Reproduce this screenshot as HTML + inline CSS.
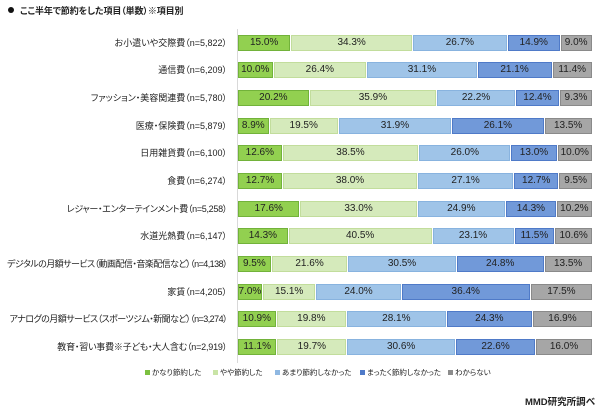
<!DOCTYPE html>
<html><head><meta charset="utf-8">
<style>
html,body{margin:0;padding:0;background:#fff;}
body{width:600px;height:414px;position:relative;overflow:hidden;font-family:"Liberation Sans","Noto Sans CJK JP",sans-serif;color:#222;}
.title{position:absolute;left:8px;top:4px;font-size:9px;font-weight:bold;line-height:14px;font-feature-settings:"palt";white-space:nowrap;letter-spacing:-0.1px;}
.title b{display:inline-block;width:6px;height:6px;border-radius:50%;background:#111;margin-right:6px;vertical-align:1px;}
.axis{position:absolute;left:237px;top:29px;width:1px;height:334px;background:#d9d9d9;}
.lab{position:absolute;left:0;width:227px;text-align:right;font-size:9px;line-height:16px;height:16px;white-space:nowrap;font-feature-settings:"palt";}
.bar{position:absolute;left:238px;width:355px;height:16px;display:flex;}
.bar i{font-style:normal;box-sizing:border-box;height:16px;border-right:1px solid #fff;background-clip:padding-box;text-align:center;font-size:10px;line-height:16px;white-space:nowrap;overflow:visible;color:#222;}
.a{background-color:#92d050;box-shadow:inset 0 0 0 1px #72b23a;}
.b{background-color:#d5eabb;box-shadow:inset 0 0 0 1px #c2dd9c;}
.c{background-color:#9fc4e8;box-shadow:inset 0 0 0 1px #88b3df;}
.d{background-color:#7199d9;box-shadow:inset 0 0 0 1px #4f7ac8;}
.e{background-color:#a6a6a6;box-shadow:inset 0 0 0 1px #8a8a8a;}
.leg{position:absolute;top:367px;font-size:7.5px;line-height:12px;white-space:nowrap;font-feature-settings:"palt";}
.leg s{display:inline-block;width:5px;height:5px;margin-right:2px;vertical-align:0px;}
.src{position:absolute;right:5px;top:396px;font-size:9.5px;font-weight:bold;line-height:14px;font-feature-settings:"palt";}
</style></head><body>
<div class="title"><b></b>ここ半年で節約をした項目（単数）※項目別</div>
<div class="axis"></div>

<div class="lab" style="top:35px">お小遣いや交際費（n=5,822）</div>
<div class="bar" style="top:35px"><i class="a" style="width:15.0%">15.0%</i><i class="b" style="width:34.3%">34.3%</i><i class="c" style="width:26.7%">26.7%</i><i class="d" style="width:14.9%">14.9%</i><i class="e" style="width:9.0%">9.0%</i></div>

<div class="lab" style="top:62px">通信費（n=6,209）</div>
<div class="bar" style="top:62px"><i class="a" style="width:10.0%">10.0%</i><i class="b" style="width:26.4%">26.4%</i><i class="c" style="width:31.1%">31.1%</i><i class="d" style="width:21.1%">21.1%</i><i class="e" style="width:11.4%">11.4%</i></div>

<div class="lab" style="top:90px">ファッション・美容関連費（n=5,780）</div>
<div class="bar" style="top:90px"><i class="a" style="width:20.2%">20.2%</i><i class="b" style="width:35.9%">35.9%</i><i class="c" style="width:22.2%">22.2%</i><i class="d" style="width:12.4%">12.4%</i><i class="e" style="width:9.3%">9.3%</i></div>

<div class="lab" style="top:118px">医療・保険費（n=5,879）</div>
<div class="bar" style="top:118px"><i class="a" style="width:8.9%">8.9%</i><i class="b" style="width:19.5%">19.5%</i><i class="c" style="width:31.9%">31.9%</i><i class="d" style="width:26.1%">26.1%</i><i class="e" style="width:13.5%">13.5%</i></div>

<div class="lab" style="top:145px">日用雑貨費（n=6,100）</div>
<div class="bar" style="top:145px"><i class="a" style="width:12.6%">12.6%</i><i class="b" style="width:38.5%">38.5%</i><i class="c" style="width:26.0%">26.0%</i><i class="d" style="width:13.0%">13.0%</i><i class="e" style="width:10.0%">10.0%</i></div>

<div class="lab" style="top:173px">食費（n=6,274）</div>
<div class="bar" style="top:173px"><i class="a" style="width:12.7%">12.7%</i><i class="b" style="width:38.0%">38.0%</i><i class="c" style="width:27.1%">27.1%</i><i class="d" style="width:12.7%">12.7%</i><i class="e" style="width:9.5%">9.5%</i></div>

<div class="lab" style="top:201px;letter-spacing:-0.3px">レジャー・エンターテインメント費（n=5,258）</div>
<div class="bar" style="top:201px"><i class="a" style="width:17.6%">17.6%</i><i class="b" style="width:33.0%">33.0%</i><i class="c" style="width:24.9%">24.9%</i><i class="d" style="width:14.3%">14.3%</i><i class="e" style="width:10.2%">10.2%</i></div>

<div class="lab" style="top:228px">水道光熱費（n=6,147）</div>
<div class="bar" style="top:228px"><i class="a" style="width:14.3%">14.3%</i><i class="b" style="width:40.5%">40.5%</i><i class="c" style="width:23.1%">23.1%</i><i class="d" style="width:11.5%">11.5%</i><i class="e" style="width:10.6%">10.6%</i></div>

<div class="lab" style="top:256px;letter-spacing:-0.55px">デジタルの月額サービス（動画配信・音楽配信など）（n=4,138）</div>
<div class="bar" style="top:256px"><i class="a" style="width:9.5%">9.5%</i><i class="b" style="width:21.6%">21.6%</i><i class="c" style="width:30.5%">30.5%</i><i class="d" style="width:24.8%">24.8%</i><i class="e" style="width:13.5%">13.5%</i></div>

<div class="lab" style="top:284px">家賃（n=4,205）</div>
<div class="bar" style="top:284px"><i class="a" style="width:7.0%">7.0%</i><i class="b" style="width:15.1%">15.1%</i><i class="c" style="width:24.0%">24.0%</i><i class="d" style="width:36.4%">36.4%</i><i class="e" style="width:17.5%">17.5%</i></div>

<div class="lab" style="top:311px;letter-spacing:-0.55px">アナログの月額サービス（スポーツジム・新聞など）（n=3,274）</div>
<div class="bar" style="top:311px"><i class="a" style="width:10.9%">10.9%</i><i class="b" style="width:19.8%">19.8%</i><i class="c" style="width:28.1%">28.1%</i><i class="d" style="width:24.3%">24.3%</i><i class="e" style="width:16.9%">16.9%</i></div>

<div class="lab" style="top:339px;letter-spacing:-0.2px">教育・習い事費※子ども・大人含む（n=2,919）</div>
<div class="bar" style="top:339px"><i class="a" style="width:11.1%">11.1%</i><i class="b" style="width:19.7%">19.7%</i><i class="c" style="width:30.6%">30.6%</i><i class="d" style="width:22.6%">22.6%</i><i class="e" style="width:16.0%">16.0%</i></div>

<div class="leg" style="left:145px"><s style="background:#7cc040"></s>かなり節約した</div>
<div class="leg" style="left:213px"><s style="background:#c9e4a6"></s>やや節約した</div>
<div class="leg" style="left:275px"><s style="background:#8fb8e2"></s>あまり節約しなかった</div>
<div class="leg" style="left:360px"><s style="background:#4f7ac8"></s>まったく節約しなかった</div>
<div class="leg" style="left:448px"><s style="background:#8c8c8c"></s>わからない</div>

<div class="src">MMD研究所調べ</div>
</body></html>
